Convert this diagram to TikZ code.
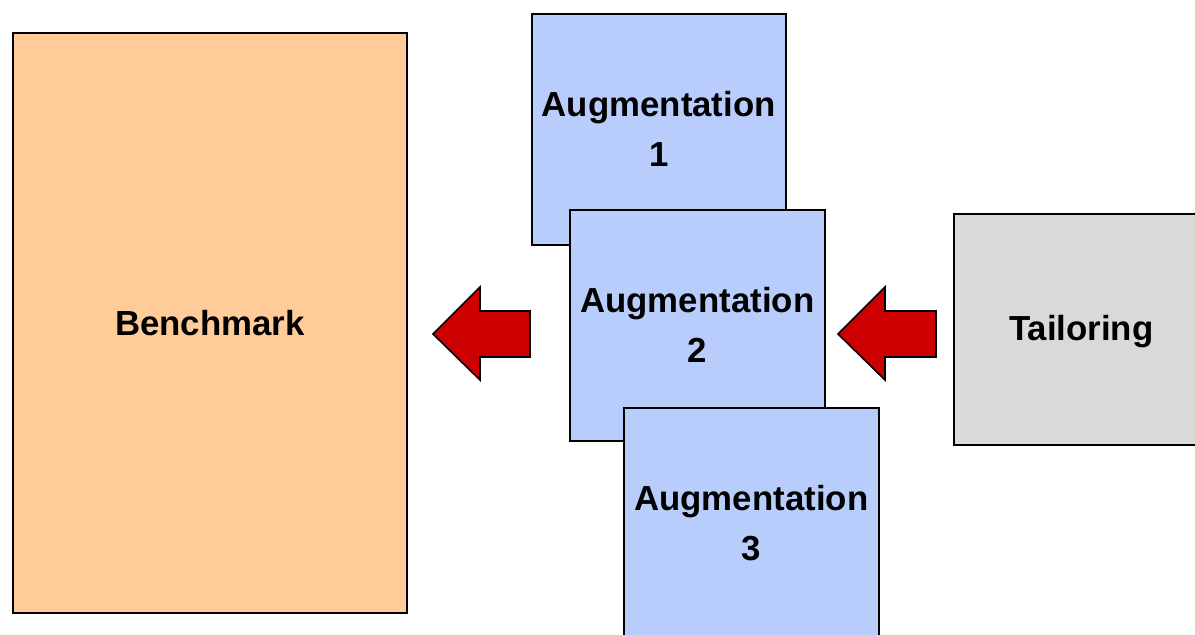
\documentclass[tikz,border=0pt]{standalone}
\usepackage{fontspec}
\setmainfont{Liberation Sans}
\definecolor{benchfill}{HTML}{FFCC99}
\definecolor{augfill}{HTML}{B9CDFD}
\definecolor{tailfill}{HTML}{D9D9D9}
\definecolor{arrowred}{HTML}{CC0000}
\tikzset{
  box/.style={draw=black, line width=1.6pt, minimum width=#1, inner sep=0pt, align=center,
    font=\fontsize{34.8}{50}\selectfont\bfseries, anchor=north west},
  fatarrow/.style={fill=arrowred, draw=black, line width=1.6pt, line join=miter},
}
\begin{document}
\begin{tikzpicture}[x=1pt,y=-1pt]
\useasboundingbox (0,0) rectangle (1195,635);
\clip (0,0) rectangle (1195,635);
\node[box=394pt, minimum height=580pt, fill=benchfill] (bench) at (12,32) {Benchmark};
\node[box=254pt, minimum height=231pt, fill=augfill] (aug1) at (531,13) {Augmentation\\1};
\node[box=255pt, minimum height=231pt, fill=augfill] (aug2) at (569,209) {Augmentation\\2};
\node[box=255pt, minimum height=231pt, fill=augfill] (aug3) at (623,407) {Augmentation\\3};
\node[box=255pt, minimum height=231pt, fill=tailfill, text depth=2pt] (tail) at (953,213) {Tailoring};
% left arrow
\draw[fatarrow] (433,334) -- (480,287) -- (480,311) -- (530,311) -- (530,357) -- (480,357) -- (480,380) -- cycle;
% right arrow
\draw[fatarrow] (838,334) -- (885,287) -- (885,311) -- (936,311) -- (936,357) -- (885,357) -- (885,380) -- cycle;
\end{tikzpicture}
\end{document}
